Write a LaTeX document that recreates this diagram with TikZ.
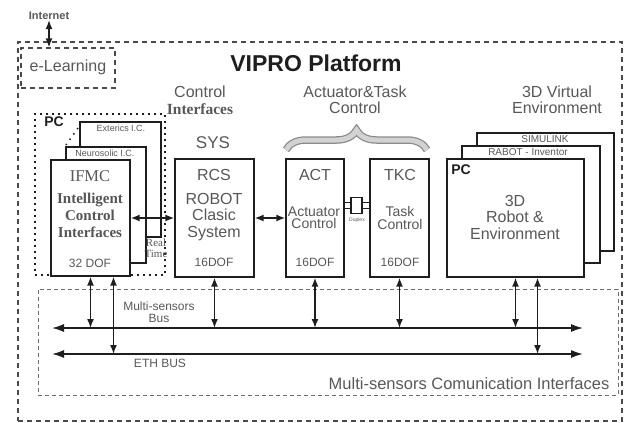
\documentclass[tikz,border=0pt]{standalone}
\usepackage{fontspec}
\setmainfont{Liberation Sans}
\newfontfamily\serif{Liberation Serif}
\usetikzlibrary{arrows.meta,positioning,decorations.pathreplacing}
\definecolor{Ink}{HTML}{1E1E1E}
\definecolor{Muted}{HTML}{585858}
\definecolor{Frame}{HTML}{4A4A4A}
\definecolor{BraceFill}{HTML}{D2D2D2}
\definecolor{BraceLine}{HTML}{8A8A8A}

\begin{document}
\begin{tikzpicture}[x=1pt,y=-1pt,
  box/.style={draw=Ink,line width=1.3pt,fill=white,inner sep=0pt},
  platform/.style={draw=Frame,line width=1.2pt,dash pattern=on 5pt off 4pt,inner sep=0pt},
  comm/.style={draw=Frame!80,line width=0.9pt,dash pattern=on 4pt off 3pt,inner sep=0pt},
  pcframe/.style={draw=Ink,line width=1.6pt,dash pattern=on 1.6pt off 4.4pt,inner sep=0pt},
  txt/.style={text=Muted,font=\fontsize{16}{16.5}\selectfont,align=center,inner sep=0pt},
  small/.style={text=Muted,font=\fontsize{12}{12}\selectfont,align=center,inner sep=0pt},
  tiny/.style={text=Muted,font=\fontsize{9}{9}\selectfont,inner sep=0pt},
  tag/.style={text=Ink,font=\fontsize{14}{14}\selectfont\bfseries,inner sep=0pt},
  dbl/.style={{Latex[length=9pt,width=7pt]}-{Latex[length=9pt,width=7pt]},line width=1.5pt,draw=Ink},
  bus/.style={{Latex[length=12pt,width=8pt]}-{Latex[length=12pt,width=8pt]},line width=1.5pt,draw=Ink},
  brace/.style={decorate,decoration={brace,amplitude=20pt}}
]
\useasboundingbox (0,0) rectangle (625,423);

% frames
\node[platform,minimum width=604,minimum height=379] (vipro) at (320,231.5) {};
\node[comm,minimum width=580,minimum height=106] (msci) at (328,342) {};
\node[platform,minimum width=94,minimum height=40] (elearn) at (68,68) {};
\node[pcframe,minimum width=130,minimum height=161] (pcbox) at (100,194.5) {};

\node[text=Muted,font=\fontsize{11}{11}\selectfont\bfseries,inner sep=0pt] (internet) at (49,16) {Internet};
\node[txt] (elearntxt) at (68,67) {e-Learning};
\node[text=Ink,font=\fontsize{23}{23}\selectfont\bfseries,inner sep=0pt] (title) at (316,63) {VIPRO Platform};
\draw[dbl] (internet.south) -- (internet.south |- elearn.north);

% headings
\node[txt] (ctrl) at (200,92) {Control};
\node[txt,font=\serif\bfseries\fontsize{15.5}{16}\selectfont] (ctrlif) at (200,109) {Interfaces};
\node[txt,font=\fontsize{17}{17}\selectfont] (sys) at (213,143) {SYS};
\node[txt] (acttask) at (355,100) {Actuator\&Task\\Control};
\node[txt] (virt) at (557,100) {3D Virtual\\Environment};

% PC stack
\node[pcframe,draw=none] (pctag) at (54,122) {};
\node[tag] at (pctag) {PC};
\draw[Ink,line width=1.5pt,dash pattern=on 1.5pt off 5pt] (78,128) -- (66,145);
\node[box,minimum width=81,minimum height=115] (exter) at (120.5,179.5) {};
\node[tiny] (extertxt) at (121,128) {Exterics I.C.};
\node[box,minimum width=80,minimum height=116] (neuro) at (106,205) {};
\node[tiny] (neurotxt) at (105,153) {Neurosolic I.C.};
\node[box,minimum width=79,minimum height=116] (ifmc) at (90.5,218) {};
\node[txt,font=\serif\fontsize{16.5}{16.5}\selectfont] (ifmcname) at (90,176) {IFMC};
\node[txt,text=Ink!75,font=\serif\bfseries\fontsize{15}{17}\selectfont] (ifmcbody) at (90,215) {Intelligent\\Control\\Interfaces};
\node[small] (ifmcdof) at (90,263) {32 DOF};
\node[txt,font=\serif\fontsize{11}{11}\selectfont] (rtime) at (156,248) {Real\\Time};

% control boxes
\node[box,minimum width=79,minimum height=118] (rcs) at (214.5,218) {};
\node[txt] (rcsname) at (214,175) {RCS};
\node[txt] (rcsbody) at (214,217) {ROBOT\\Clasic\\System};
\node[small] (rcsdof) at (214,262) {16DOF};

\node[box,minimum width=58,minimum height=118] (act) at (315,218) {};
\node[txt] (actname) at (315,175) {ACT};
\node[txt,font=\fontsize{14}{12.5}\selectfont] (actbody) at (314,218) {Actuator\\Control};
\node[small] (actdof) at (315,262) {16DOF};

\node[box,minimum width=59,minimum height=118] (tkc) at (399.5,218) {};
\node[txt] (tkcname) at (400,175) {TKC};
\node[txt,font=\fontsize{14}{12.5}\selectfont] (tkcbody) at (400,218) {Task\\Control};
\node[small] (tkcdof) at (400,262) {16DOF};

\draw[brace,BraceLine,line width=7.5pt] (286,150) -- (427,150);
\draw[brace,BraceFill,line width=5pt] (286,150) -- (427,150);

% coupling
\node[box,line width=1.2pt,minimum width=11,minimum height=16] (cpl) at (356.5,205.5) {};
\node[tiny,font=\fontsize{5}{5}\selectfont] (cpltxt) at (357,220) {Duplex};
\coordinate (cplA) at ([yshift=3pt]cpl.west);
\coordinate (cplB) at ([yshift=-3pt]cpl.west);
\coordinate (cplC) at ([yshift=3pt]cpl.east);
\coordinate (cplD) at ([yshift=-3pt]cpl.east);
\draw[Ink,line width=1.1pt] (cplA) -- (cplA -| act.east);
\draw[Ink,line width=1.1pt] (cplB) -- (cplB -| act.east);
\draw[Ink,line width=1.1pt] (cplC) -- (cplC -| tkc.west);
\draw[Ink,line width=1.1pt] (cplD) -- (cplD -| tkc.west);

% 3D stack
\node[box,minimum width=137,minimum height=118] (simu) at (545.5,192) {};
\node[tiny,font=\fontsize{10}{10}\selectfont] (simutxt) at (545,139) {SIMULINK};
\node[box,minimum width=138,minimum height=117] (rabot) at (531,204.5) {};
\node[tiny,font=\fontsize{10}{10}\selectfont] (rabottxt) at (528,152) {RABOT - Inventor};
\node[box,minimum width=137,minimum height=118] (vre) at (515.5,218) {};
\node[tag] (vretag) at (461,170) {PC};
\node[txt] (vrebody) at (515,217) {3D\\Robot \&\\Environment};

% links
\draw[dbl] (ifmc.east) -- (rcs.west);
\draw[dbl] (rcs.east) -- (act.west);

% buses
\coordinate (msL) at (52,328);
\coordinate (msR) at (583,328);
\coordinate (ethL) at (52,354);
\coordinate (ethR) at (583,354);
\draw[bus] (msL) -- (msR);
\draw[bus] (ethL) -- (ethR);
\node[small] (mstxt) at (159,312) {Multi-sensors\\Bus};
\node[small] (ethtxt) at (160,363) {ETH BUS};
\node[txt,font=\fontsize{16.5}{16.5}\selectfont] (mscitxt) at (469,384) {Multi-sensors Comunication Interfaces};

\coordinate (ifmcB) at ([xshift=23pt]ifmc.south);
\coordinate (vreB) at ([xshift=22pt]vre.south);
\draw[dbl] (ifmc.south) -- (ifmc.south |- msL);
\draw[dbl] (ifmcB) -- (ifmcB |- ethL);
\draw[dbl] (rcs.south) -- (rcs.south |- msL);
\draw[dbl] (act.south) -- (act.south |- msL);
\draw[dbl] (tkc.south) -- (tkc.south |- msL);
\draw[dbl] (vre.south) -- (vre.south |- msL);
\draw[dbl] (vreB) -- (vreB |- ethL);
\end{tikzpicture}
\end{document}
